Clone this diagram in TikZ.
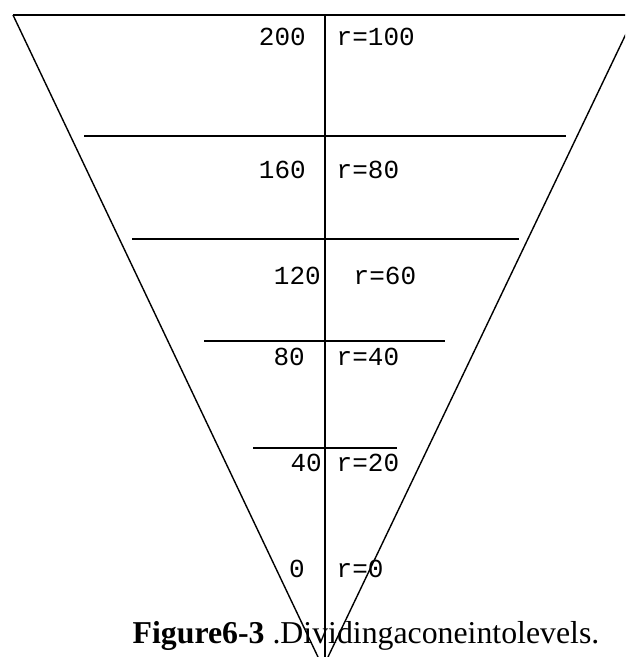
\documentclass[tikz,border=0pt]{standalone}
\usepackage{fontspec}
\setmainfont{Liberation Serif}
\setmonofont{Liberation Mono}
\begin{document}
\begin{tikzpicture}[x=1pt,y=-1pt,line width=1.4pt,
  lab/.style={font=\ttfamily\fontsize{26}{26}\selectfont,inner sep=0pt},
  labl/.style={lab,anchor=base east},
  labr/.style={lab,anchor=base west},
  lvl/.style={line width=1.4pt},
  capt/.style={font=\fontsize{31.8}{32}\selectfont,inner sep=0pt,anchor=base west}]
\useasboundingbox (0,0) rectangle (625,657);
\coordinate (tl) at (13,15);
\coordinate (tr) at (640,15);
\coordinate (rt) at (635,15);
\coordinate (bl) at (318,657);
\coordinate (br) at (328,657);
\coordinate (vt) at (325,15);
\coordinate (vb) at (325,657);
\coordinate (a1) at (84,136);  \coordinate (b1) at (566,136);
\coordinate (a2) at (132,239); \coordinate (b2) at (519,239);
\coordinate (a3) at (204,341); \coordinate (b3) at (445,341);
\coordinate (a4) at (253,448); \coordinate (b4) at (397,448);
% caption
\node[capt] (cap) at (132,643) {\textbf{Figure6-3} .Dividingaconeintolevels.};
\begin{scope}
\clip (0,0) rectangle (625,657);
\draw (tl) -- (tr);
\draw (tl) -- (bl);
\draw (rt) -- (br);
\draw (vt) -- (vb);
\draw[lvl] (a1) -- (b1);
\draw[lvl] (a2) -- (b2);
\draw[lvl] (a3) -- (b3);
\draw[lvl] (a4) -- (b4);
\end{scope}
% labels
\node[labl] (h200) at (306.5,45) {200};
\node[labr] (r100) at (336,45) {r=100};
\node[labl] (h160) at (306.5,178) {160};
\node[labr] (r80) at (336,178) {r=80};
\node[labl] (h120) at (321.5,284) {120};
\node[labr] (r60) at (353,284) {r=60};
\node[labl] (h80) at (305.5,365) {80};
\node[labr] (r40) at (336,365) {r=40};
\node[labl] (h40) at (322.5,471) {40};
\node[labr] (r20) at (336,471) {r=20};
\node[labl] (h0) at (305.5,577) {0};
\node[labr] (r0) at (336,577) {r=0};
\end{tikzpicture}
\end{document}
